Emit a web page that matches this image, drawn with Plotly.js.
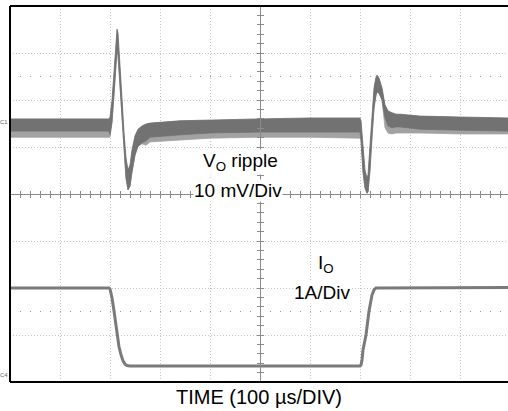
<!DOCTYPE html>
<html>
<head>
<meta charset="utf-8">
<script src="https://cdn.plot.ly/plotly-3.0.1.min.js"></script>
<style>html,body{margin:0;padding:0;background:#fff;}#chart{width:508px;height:411px;}</style>
</head>
<body>
<div id="chart"></div>
<script>
// Time base: microseconds (100 us/div)
const vTime = [0,100,198,200,204,208,212,214,216,220,224,228,232,236,240,244,250,256,264,272,280,340,400,500,600,700,702,706,710,714,716,720,724,728,732,734,738,744,750,756,764,772,780,820,900,996];
// Output voltage ripple envelope (mV, 10 mV/div)
const vTop = [1.3,1.3,1.3,1.7,5.3,11.3,17.7,20.4,19.6,13.4,5.7,-1.5,-7.0,-9.6,-8.5,-5.3,-2.3,-0.9,-0.2,0.2,0.4,0.9,1.1,1.3,1.5,1.5,0.9,-5.3,-9.6,-11.3,-10.6,-4.3,2.8,7.9,10.2,10.6,10.0,7.9,4.3,3.0,2.6,2.3,2.3,1.9,1.7,1.5];
const vDense = [-1.3,-1.3,-1.3,-2.1,0.6,6.4,13.4,16.0,14.9,8.5,0.6,-6.4,-11.3,-13.8,-13.0,-10.0,-6.4,-4.5,-3.8,-3.4,-2.6,-2.1,-1.7,-1.5,-1.5,-1.5,-3.2,-10.0,-13.4,-14.5,-14.3,-9.6,-2.1,3.6,6.4,7.0,6.8,5.3,1.5,-0.2,-0.6,-0.4,-0.4,-0.9,-1.1,-1.3];
const vStreak = [-2.6,-2.6,-2.6,-2.6,0.6,6.4,13.4,16.0,14.9,8.5,0.6,-6.4,-11.3,-13.8,-13.0,-10.0,-6.4,-4.5,-4.0,-4.3,-3.6,-3.2,-2.8,-2.6,-2.6,-2.8,-3.2,-10.0,-13.4,-14.5,-14.3,-9.6,-2.1,3.6,6.4,7.0,6.8,5.3,-0.6,-1.7,-1.9,-1.7,-1.7,-1.7,-1.9,-1.9];
// Output current (A, 1 A/div)
const iTime = [0,100,198,200,204,208,214,218,222,226,230,234,240,380,580,700,702,704,706,712,718,724,728,732,736,780,900,996];
const iAmps = [1.85,1.85,1.85,1.83,1.64,1.36,0.85,0.60,0.43,0.30,0.23,0.20,0.19,0.19,0.19,0.19,0.21,0.32,0.53,0.85,1.36,1.70,1.81,1.85,1.85,1.85,1.86,1.86];

const xRange = [0, 996];
const vRange = [-54.68, 25.32];
const iRange = [-0.15, 7.85];
const FONT = 'Arial, "Liberation Sans", Helvetica, sans-serif';

const traces = [
  {x: vTime, y: vTop, yaxis: 'y2', mode: 'lines', line: {width: 0, color: 'rgba(0,0,0,0)'}, hoverinfo: 'skip', showlegend: false},
  {x: vTime, y: vStreak, yaxis: 'y2', mode: 'lines', fill: 'tonexty', fillcolor: '#a2a2a2', line: {width: 0.8, color: '#a2a2a2'}, hoverinfo: 'skip', showlegend: false},
  {x: vTime, y: vTop, yaxis: 'y2', mode: 'lines', line: {width: 0.8, color: '#727272'}, hoverinfo: 'skip', showlegend: false},
  {x: vTime, y: vDense, yaxis: 'y2', mode: 'lines', fill: 'tonexty', fillcolor: '#727272', line: {width: 0.8, color: '#727272'}, hoverinfo: 'skip', showlegend: false},
  {x: iTime, y: iAmps, yaxis: 'y', mode: 'lines', line: {width: 3, color: '#7a7a7a'}, hoverinfo: 'skip', showlegend: false},
  {x: [], y: [], xaxis: 'x2', yaxis: 'y', showlegend: false},
  {x: [], y: [], xaxis: 'x3', yaxis: 'y', showlegend: false},
  {x: [], y: [], xaxis: 'x', yaxis: 'y3', showlegend: false},
  {x: [], y: [], xaxis: 'x', yaxis: 'y4', showlegend: false}
];

const centerAxisX = {overlaying: 'x', anchor: 'free', position: 0.5, range: xRange, showline: true, linecolor: '#8a8a8a', linewidth: 1,
  ticks: 'outside', ticklen: 3, tickcolor: '#8a8a8a', tick0: 0, dtick: 20, showticklabels: false, showgrid: false, zeroline: false, fixedrange: true};
const centerAxisY = {overlaying: 'y', anchor: 'free', position: 500/996, range: iRange, showline: true, linecolor: '#8a8a8a', linewidth: 1,
  ticks: 'outside', ticklen: 3, tickcolor: '#8a8a8a', tick0: -0.15, dtick: 0.2, showticklabels: false, showgrid: false, zeroline: false, fixedrange: true};

const textFont = {size: 19, family: FONT, color: '#000'};

const layout = {
  width: 508, height: 411,
  margin: {l: 10, r: 0, t: 6, b: 29, pad: 0},
  paper_bgcolor: '#ffffff', plot_bgcolor: '#ffffff',
  showlegend: false,
  font: {family: FONT, color: '#000'},
  xaxis: {range: xRange, tick0: 0, dtick: 100, showgrid: true, gridcolor: '#c4c4c4', griddash: '1px,2px', gridwidth: 1,
    showline: false, ticks: '', showticklabels: false, zeroline: false, fixedrange: true},
  yaxis: {range: iRange, tick0: -0.15, dtick: 1, showgrid: true, gridcolor: '#c4c4c4', griddash: '1px,2px', gridwidth: 1,
    showline: false, ticks: '', showticklabels: false, zeroline: false, fixedrange: true},
  yaxis2: {overlaying: 'y', range: vRange, visible: false, fixedrange: true},
  xaxis2: Object.assign({}, centerAxisX, {side: 'bottom'}),
  xaxis3: Object.assign({}, centerAxisX, {side: 'top'}),
  yaxis3: Object.assign({}, centerAxisY, {side: 'left'}),
  yaxis4: Object.assign({}, centerAxisY, {side: 'right'}),
  shapes: [
    {type: 'line', xref: 'paper', yref: 'paper', x0: 0.02, x1: 1, y0: 0.8125, y1: 0.8125, line: {color: '#9a9a9a', width: 1, dash: '1px,9px'}, layer: 'below'},
    {type: 'line', xref: 'paper', yref: 'paper', x0: 0.02, x1: 1, y0: 0.1875, y1: 0.1875, line: {color: '#9a9a9a', width: 1, dash: '1px,9px'}, layer: 'below'},
    {type: 'line', xref: 'paper', yref: 'paper', x0: 0, x1: 1, y0: 0, y1: 0, line: {color: '#000', width: 2}, layer: 'above'},
    {type: 'line', xref: 'paper', yref: 'paper', x0: 0, x1: 1, y0: 1, y1: 1, line: {color: '#000', width: 2}, layer: 'above'},
    {type: 'line', xref: 'paper', yref: 'paper', x0: 0, x1: 0, y0: 0, y1: 1, line: {color: '#000', width: 2}, layer: 'above'}
  ],
  annotations: [
    {text: 'V<sub>O</sub> ripple', xref: 'paper', yref: 'paper', x: 0.462, y: 0.585, xanchor: 'center', yanchor: 'middle', showarrow: false, font: textFont, bgcolor: '#fff', borderpad: 0},
    {text: '10 mV/Div', xref: 'paper', yref: 'paper', x: 0.457, y: 0.508, xanchor: 'center', yanchor: 'middle', showarrow: false, font: textFont, bgcolor: '#fff', borderpad: 0},
    {text: 'I<sub>O</sub>', xref: 'paper', yref: 'paper', x: 0.635, y: 0.314, xanchor: 'center', yanchor: 'middle', showarrow: false, font: textFont, bgcolor: '#fff', borderpad: 0},
    {text: '1A/Div', xref: 'paper', yref: 'paper', x: 0.626, y: 0.239, xanchor: 'center', yanchor: 'middle', showarrow: false, font: textFont, bgcolor: '#fff', borderpad: 0},
    {text: 'TIME (100 µs/DIV)', xref: 'paper', yref: 'paper', x: 0.5, y: -0.040, xanchor: 'center', yanchor: 'middle', showarrow: false, font: {size: 20, family: FONT, color: '#000'}, bgcolor: '#fff', borderpad: 0},
    {text: 'C1', xref: 'paper', yref: 'paper', x: -0.012, y: (382-122)/376, xanchor: 'center', yanchor: 'middle', showarrow: false, font: {size: 6, family: FONT, color: '#666'}},
    {text: 'C4', xref: 'paper', yref: 'paper', x: -0.012, y: (382-375)/376, xanchor: 'center', yanchor: 'middle', showarrow: false, font: {size: 6, family: FONT, color: '#666'}}
  ]
};

Plotly.newPlot('chart', traces, layout, {staticPlot: true, displayModeBar: false});
</script>
</body>
</html>
